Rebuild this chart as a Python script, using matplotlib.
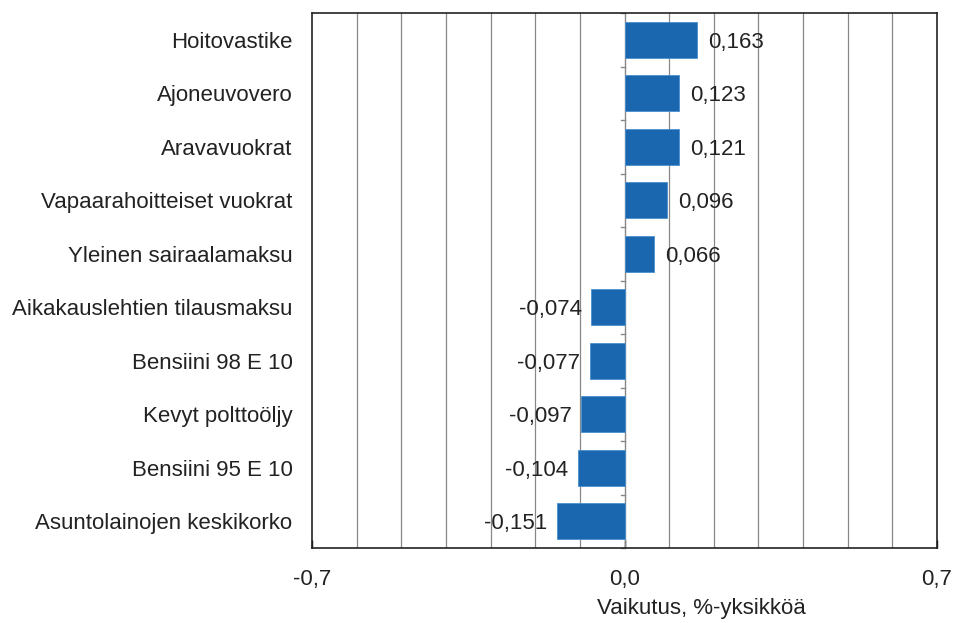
import matplotlib
matplotlib.use("Agg")
import matplotlib.pyplot as plt
from matplotlib.ticker import MultipleLocator

plt.rcParams['font.family'] = ['Liberation Sans', 'DejaVu Sans']

categories = ["Hoitovastike", "Ajoneuvovero", "Aravavuokrat", "Vapaarahoitteiset vuokrat",
              "Yleinen sairaalamaksu", "Aikakauslehtien tilausmaksu", "Bensiini 98 E 10",
              "Kevyt polttoöljy", "Bensiini 95 E 10", "Asuntolainojen keskikorko"]
values = [0.163, 0.123, 0.121, 0.096, 0.066, -0.074, -0.077, -0.097, -0.104, -0.151]
xtick_values = [-0.7, 0.0, 0.7]
xtick_labels = ["-0,7", "0,0", "0,7"]
xlabel = "Vaikutus, %-yksikköä"

FS = 16
fig = plt.figure(figsize=(9.55, 6.23), dpi=100)
ax = fig.add_axes([312/955, 1-548/623, (937-312)/955, (548-13)/623])

n = len(categories)
ypos = list(range(n))
ax.barh(ypos, values, height=0.67, color="#1a67b0", edgecolor="#4a8fd0", linewidth=0.6, zorder=3)
ax.set_ylim(n - 0.5, -0.5)
ax.set_xlim(-0.7, 0.7)

ax.xaxis.set_minor_locator(MultipleLocator(0.1))
ax.grid(True, which='minor', axis='x', color='#888888', linewidth=0.9, zorder=0)
ax.set_xticks(xtick_values)
ax.set_xticklabels(xtick_labels, fontsize=FS, color='#222222')
ax.tick_params(axis='x', which='major', length=6, width=1, direction='in', pad=15)
ax.tick_params(axis='x', which='minor', length=0)
ax.set_xlabel(xlabel, fontsize=FS, color='#222222')
ax.xaxis.set_label_coords((701 - 312) / 625, -0.093)

ax.set_yticks(ypos)
ax.set_yticklabels(categories, fontsize=FS, color='#222222')
ax.tick_params(axis='y', length=0, pad=14)

# zero line with small separator ticks
ax.axvline(0, color='#888888', linewidth=1.0, zorder=2)
for k in range(n + 1):
    yb = k - 0.5
    ax.plot([-0.008, 0], [yb, yb], color='#888888', linewidth=1.0, zorder=2, clip_on=False)

for s in ax.spines.values():
    s.set_color('#222222')
    s.set_linewidth(1.2)

for y, v in zip(ypos, values):
    txt = f"{v:.3f}".replace(".", ",")
    if v >= 0:
        ax.annotate(txt, (v, y), xytext=(8, 0), textcoords='offset points', ha='left',
                    va='center_baseline', fontsize=FS, color='#222222', zorder=4)
    else:
        ax.annotate(txt, (v, y), xytext=(-7, 0), textcoords='offset points', ha='right',
                    va='center_baseline', fontsize=FS, color='#222222', zorder=4)

fig.savefig("out.png", dpi=100)
